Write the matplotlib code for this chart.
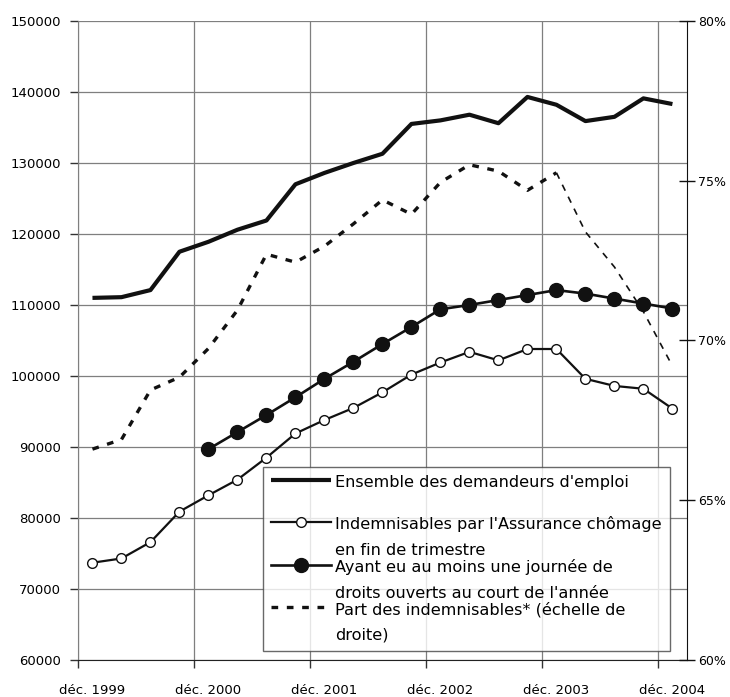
import numpy as np
import matplotlib
matplotlib.use("Agg")
import matplotlib.pyplot as plt
from matplotlib.legend_handler import HandlerLine2D
from matplotlib.ticker import FuncFormatter

# quarterly data, dec 1999 -> dec 2004
quarters = ["déc. 1999", "mars 2000", "juin 2000", "sept. 2000",
            "déc. 2000", "mars 2001", "juin 2001", "sept. 2001",
            "déc. 2001", "mars 2002", "juin 2002", "sept. 2002",
            "déc. 2002", "mars 2003", "juin 2003", "sept. 2003",
            "déc. 2003", "mars 2004", "juin 2004", "sept. 2004",
            "déc. 2004"]

ensemble = [111000, 111100, 112100, 117500, 118900, 120600, 121900, 127000,
            128600, 130000, 131300, 135500, 136000, 136800, 135600, 139300,
            138200, 135900, 136500, 139100, 138300]

indemnisables = [73700, 74300, 76600, 80900, 83200, 85400, 88500, 91900,
                 93800, 95500, 97700, 100200, 101900, 103400, 102200, 103800,
                 103800, 99600, 98600, 98200, 95400]

ayant_droits = [np.nan, np.nan, np.nan, np.nan, 89700, 92100, 94500, 97000,
                99600, 102000, 104500, 106900, 109400, 110000, 110700, 111400,
                112100, 111600, 110900, 110200, 109500]

part_indemn = [66.6, 66.9, 68.45, 68.85, 69.75, 70.95, 72.7, 72.45, 72.95,
               73.65, 74.4, 73.95, 74.95, 75.5, 75.3, 74.7, 75.25, 73.4,
               72.3, 70.9, 69.2]
# the last quarters are drawn with a thinner dashed line
split = 16

labels = ["Ensemble des demandeurs d'emploi\n ",
          "Indemnisables par l'Assurance chômage\nen fin de trimestre",
          "Ayant eu au moins une journée de\ndroits ouverts au court de l'année",
          "Part des indemnisables* (échelle de\ndroite)"]


class ShiftedLine(HandlerLine2D):
    def __init__(self, dy=0.0, **kw):
        super().__init__(**kw)
        self.dy = dy

    def create_artists(self, legend, orig_handle, xdescent, ydescent,
                       width, height, fontsize, trans):
        arts = super().create_artists(legend, orig_handle, xdescent, ydescent,
                                      width, height, fontsize, trans)
        for a in arts:
            a.set_ydata(np.asarray(a.get_ydata()) + self.dy * fontsize)
        return arts


plt.rcParams['font.family'] = ['DejaVu Sans']
grid_col = '#7f7f7f'

fig = plt.figure(figsize=(7.3, 6.97), dpi=100)
ax = fig.add_axes([0.1068, 0.0531, 0.8342, 0.9168])
ax2 = ax.twinx()

x = np.arange(len(quarters))

l1, = ax.plot(x, ensemble, color='#111111', lw=3.0, solid_capstyle='butt',
              zorder=3)
l2, = ax.plot(x, indemnisables, color='#111111', lw=1.6, marker='o',
              markersize=7, markerfacecolor='white', markeredgecolor='#111111',
              markeredgewidth=1.0, zorder=4)
l3, = ax.plot(x, ayant_droits, color='#111111', lw=1.9, marker='o',
              markersize=10, markerfacecolor='#111111',
              markeredgecolor='#111111', zorder=4)

l4, = ax2.plot(x[:split + 1], part_indemn[:split + 1], color='#111111',
               lw=2.4, linestyle=(0, (2.0, 2.6)))
ax2.plot(x[split:], part_indemn[split:], color='#111111', lw=1.2,
         linestyle=(0, (4, 4)))

ax.set_xlim(-0.5, len(quarters) - 0.5)
ax.set_ylim(60000, 150000)
ax.set_yticks(np.arange(60000, 150001, 10000))
ax2.set_ylim(60, 80)
ax2.set_yticks([60, 65, 70, 75, 80])
ax2.yaxis.set_major_formatter(FuncFormatter(lambda v, p: f"{v:.0f}%"))

ax.set_xticks(np.arange(-0.5, len(quarters) - 1, 4))
ax.set_xticklabels([])
ax.set_xticks(x[::4], minor=True)
ax.set_xticklabels(quarters[::4], minor=True)
ax.tick_params(axis='x', which='major', direction='out', length=6,
               width=1, color='#333333')
ax.tick_params(axis='x', which='minor', length=0, pad=17, labelsize=9.5)
ax.tick_params(axis='y', direction='out', length=6, width=1,
               color='#333333', pad=6, labelsize=9.5)
ax2.tick_params(axis='y', direction='inout', length=12, width=1,
                color='#111111', pad=2, labelsize=9)

ax.grid(True, which='major', color=grid_col, lw=0.9)
ax.set_axisbelow(True)

for s in ['top']:
    ax.spines[s].set_visible(False)
    ax2.spines[s].set_visible(False)
ax.spines['left'].set_color(grid_col)
ax2.spines['left'].set_visible(False)
ax.spines['bottom'].set_color('#222222')
ax2.spines['bottom'].set_visible(False)
ax2.spines['right'].set_color('#111111')
ax.spines['right'].set_visible(False)

leg = ax2.legend([l1, l2, l3, l4], labels, loc='lower left',
                 bbox_to_anchor=(0.3038, 0.0141), fontsize=11.6,
                 numpoints=1, handlelength=3.7, handletextpad=0.3,
                 labelspacing=0.05, borderpad=0.5, borderaxespad=0,
                 frameon=True, fancybox=False,
                 handler_map={l1: ShiftedLine(0.96), l2: ShiftedLine(0.96),
                              l3: ShiftedLine(0.96), l4: ShiftedLine(0.96)})
leg.get_frame().set_edgecolor('#444444')
leg.get_frame().set_linewidth(1.0)
for t in leg.get_texts():
    t.set_linespacing(1.9)

fig.savefig('out.png', dpi=100)
